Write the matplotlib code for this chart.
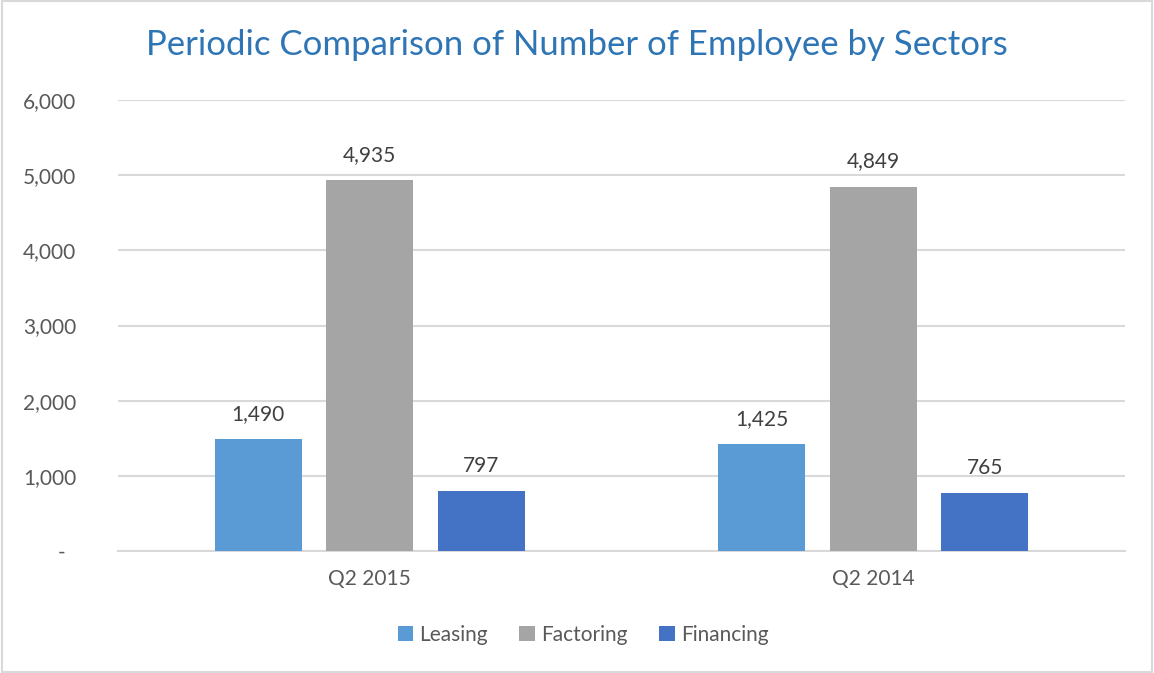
import matplotlib
matplotlib.use('Agg')
import matplotlib.pyplot as plt
import numpy as np
from matplotlib.patches import Rectangle

plt.rcParams['font.family'] = ['Lato', 'DejaVu Sans']

periods = ['Q2 2015', 'Q2 2014']
sectors = ['Leasing', 'Factoring', 'Financing']
leasing = [1490, 1425]
factoring = [4935, 4849]
financing = [797, 765]
colors = ['#5B9BD5', '#A5A5A5', '#4472C4']
yticks = [0, 1000, 2000, 3000, 4000, 5000, 6000]
ytick_labels = ['-  ', '1,000', '2,000', '3,000', '4,000', '5,000', '6,000']

fig = plt.figure(figsize=(11.54, 6.73), dpi=100)
ax = fig.add_axes([118/1154, 1-551/673, (1125-118)/1154, 451/673])

x = np.arange(len(periods))
width = 0.173
step = 0.2215
for i, (name, vals) in enumerate(zip(sectors, [leasing, factoring, financing])):
    bars = ax.bar(x + (i-1)*step, vals, width, color=colors[i], label=name, zorder=3)
    for b, v in zip(bars, vals):
        ax.annotate(f'{v:,}', (b.get_x()+b.get_width()/2, v), xytext=(0, 11),
                    textcoords='offset points', ha='center', va='bottom',
                    fontsize=15, color='#404040')

ax.set_xlim(-0.5, 1.5)
ax.set_ylim(0, 6000)
ax.set_yticks(yticks)
ax.set_yticklabels(ytick_labels)
ax.set_xticks(x)
ax.set_xticklabels(periods)
ax.tick_params(axis='y', length=0, pad=30, labelsize=15, labelcolor='#595959')
ax.tick_params(axis='x', length=0, pad=13, labelsize=15, labelcolor='#595959')
ax.grid(axis='y', color='#D9D9D9', linewidth=1.5, zorder=0)
for s in ['top', 'right', 'left']:
    ax.spines[s].set_visible(False)
ax.spines['bottom'].set_color('#D9D9D9')
ax.spines['bottom'].set_linewidth(1.5)

fig.text(0.5, 1-45/673, 'Periodic Comparison of Number of Employee by Sectors',
         ha='center', va='center', fontsize=25, color='#2E75B6')

leg = fig.legend(loc='center', bbox_to_anchor=(583/1154, 1-635/673), ncol=3,
                 frameon=False, fontsize=15, handlelength=0.75, handleheight=0.75,
                 handletextpad=0.3, columnspacing=1.5)
for t in leg.get_texts():
    t.set_color('#595959')

fig.patches.append(Rectangle((0.002, 0.002), 0.996, 0.996, transform=fig.transFigure,
                             fill=False, edgecolor='#D9D9D9', linewidth=1.5))

fig.savefig('out.png', dpi=100)
